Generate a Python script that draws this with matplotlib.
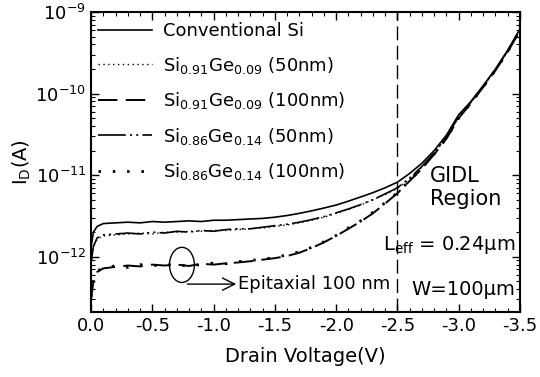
import matplotlib
matplotlib.use("Agg")
import matplotlib.pyplot as plt
from matplotlib.lines import Line2D
from matplotlib.patches import Ellipse
from matplotlib.ticker import NullFormatter, FixedLocator

plt.rcParams['font.family'] = ['DejaVu Sans']
plt.rcParams['axes.unicode_minus'] = False
plt.rcParams['lines.scale_dashes'] = False

# Drain voltage (V)
vd = [0.0, -0.02, -0.05, -0.1, -0.2, -0.3, -0.4, -0.5, -0.6, -0.7, -0.8, -0.9, -1.0,
      -1.1, -1.2, -1.3, -1.4, -1.5, -1.6, -1.7, -1.8, -1.9, -2.0,
      -2.1, -2.2, -2.3, -2.4, -2.5, -2.6, -2.7, -2.8, -2.9, -3.0,
      -3.1, -3.2, -3.3, -3.4, -3.5]

# Drain current in pA
conv_si = [1.3, 2.0, 2.35, 2.55, 2.6, 2.65, 2.6, 2.7, 2.65, 2.7, 2.75, 2.7, 2.8,
           2.8, 2.85, 2.9, 2.95, 3.05, 3.2, 3.4, 3.65, 3.95, 4.3,
           4.8, 5.4, 6.1, 7.0, 8.2, 10.5, 14, 20, 31, 55,
           80, 125, 200, 340, 620]
ge09_50 = [0.8, 1.3, 1.65, 1.8, 1.85, 1.9, 1.95, 1.9, 2.0, 2.0, 2.05, 2.05, 2.1,
           2.1, 2.15, 2.2, 2.25, 2.35, 2.45, 2.6, 2.8, 3.05, 3.4,
           3.8, 4.3, 5.0, 5.8, 6.9, 9.0, 12.5, 18.5, 29, 52,
           78, 122, 195, 330, 600]
ge09_100 = [0.3, 0.5, 0.65, 0.72, 0.75, 0.78, 0.76, 0.8, 0.78, 0.8, 0.77, 0.82, 0.8,
            0.83, 0.85, 0.88, 0.92, 0.96, 1.02, 1.12, 1.28, 1.5, 1.8,
            2.2, 2.7, 3.4, 4.5, 6.0, 8.5, 12, 18, 28, 50,
            76, 120, 192, 325, 590]
ge14_50 = [0.85, 1.35, 1.7, 1.85, 1.9, 1.95, 1.9, 2.0, 1.95, 2.05, 2.0, 2.1, 2.05,
           2.15, 2.2, 2.2, 2.3, 2.4, 2.5, 2.65, 2.85, 3.1, 3.45,
           3.85, 4.35, 5.0, 5.9, 7.0, 9.2, 12.8, 18.8, 29.5, 52,
           79, 124, 198, 335, 610]
ge14_100 = [0.32, 0.52, 0.68, 0.7, 0.78, 0.74, 0.8, 0.77, 0.82, 0.76, 0.8, 0.79, 0.84,
            0.82, 0.87, 0.9, 0.93, 0.98, 1.05, 1.15, 1.3, 1.52, 1.82,
            2.25, 2.75, 3.5, 4.6, 6.1, 8.6, 12.2, 18.2, 28.5, 50,
            77, 121, 194, 328, 595]

labels = ['Conventional Si',
          r'Si$_{\mathregular{0.91}}$Ge$_{\mathregular{0.09}}$ (50nm)',
          r'Si$_{\mathregular{0.91}}$Ge$_{\mathregular{0.09}}$ (100nm)',
          r'Si$_{\mathregular{0.86}}$Ge$_{\mathregular{0.14}}$ (50nm)',
          r'Si$_{\mathregular{0.86}}$Ge$_{\mathregular{0.14}}$ (100nm)']
xticks = [0.0, -0.5, -1.0, -1.5, -2.0, -2.5, -3.0, -3.5]
xticklabels = ['0.0', '-0.5', '-1.0', '-1.5', '-2.0', '-2.5', '-3.0', '-3.5']
yticks = [1e-12, 1e-11, 1e-10, 1e-9]
yticklabels = [r'10$^{\mathregular{-12}}$', r'10$^{\mathregular{-11}}$',
               r'10$^{\mathregular{-10}}$', r'10$^{\mathregular{-9}}$']

styles = [dict(ls='-', lw=1.2),
          dict(ls=(0, (1, 2.5)), lw=1.0),
          dict(ls=(0, (14, 6)), lw=1.4),
          dict(ls=(0, (20, 3, 1.5, 3, 1.5, 3)), lw=1.2),
          dict(ls=(0, (1.8, 8.5)), lw=2.0)]

fig = plt.figure(figsize=(5.4, 3.77), dpi=100)
ax = fig.add_axes([91/540, 1-312/377, 429/540, 300/377])

series = [conv_si, ge09_50, ge09_100, ge14_50, ge14_100]
handles = []
for s, st, lab in zip(series, styles, labels):
    ax.plot(vd, [v * 1e-12 for v in s], color='black', **st)
    handles.append(Line2D([], [], color='black', **st))

ax.set_yscale('log')
ax.set_xlim(0, -3.5)
ax.set_ylim(2.1e-13, 1e-9)
ax.set_yticks(yticks)
ax.set_yticklabels(yticklabels)
minor_y = [m * 10.0 ** e for e in range(-13, -9) for m in range(2, 10)]
minor_y = [v for v in minor_y if 2.1e-13 <= v <= 1e-9]
ax.yaxis.set_minor_locator(FixedLocator(minor_y))
ax.yaxis.set_minor_formatter(NullFormatter())
ax.set_xticks(xticks)
ax.set_xticklabels(xticklabels)
ax.set_xticks([-0.1 * i for i in range(36)], minor=True)
ax.tick_params(which='both', direction='in', top=True, right=True, labelsize=13)
ax.tick_params(which='major', length=6, width=1)
ax.tick_params(which='minor', length=3, width=0.8)
for sp in ax.spines.values():
    sp.set_linewidth(1.5)

ax.axvline(-2.5, color='black', lw=1, ls=(0, (10, 4)))

ax.set_xlabel('Drain Voltage(V)', fontsize=14, labelpad=9)
ax.set_ylabel(r'I$_{\mathregular{D}}$(A)', fontsize=14, labelpad=2)

leg = ax.legend(handles, labels, loc='upper left', bbox_to_anchor=(0.0, 0.99),
                frameon=False, fontsize=13, handlelength=3.0, handletextpad=0.6,
                labelspacing=0.8, borderaxespad=0.2, borderpad=0.2)

ax.text(0.79, 0.415, 'GIDL\nRegion', transform=ax.transAxes, fontsize=15,
        ha='left', va='center', linespacing=1.2)
ax.text(0.99, 0.225, r'L$_{\mathregular{eff}}$ = 0.24μm', transform=ax.transAxes,
        fontsize=14, ha='right', va='center')
ax.text(0.99, 0.075, 'W=100μm', transform=ax.transAxes, fontsize=14,
        ha='right', va='center')

ax.add_patch(Ellipse((0.212, 0.157), 0.058, 0.117, transform=ax.transAxes,
                     fill=False, ec='black', lw=1))
ax.annotate('', xy=(0.345, 0.093), xytext=(0.218, 0.093),
            xycoords='axes fraction', textcoords='axes fraction',
            arrowprops=dict(arrowstyle='->', color='black', lw=1,
                            mutation_scale=22))
ax.text(0.342, 0.093, 'Epitaxial 100 nm', transform=ax.transAxes, fontsize=13,
        ha='left', va='center')

fig.savefig('out.png', dpi=100)
